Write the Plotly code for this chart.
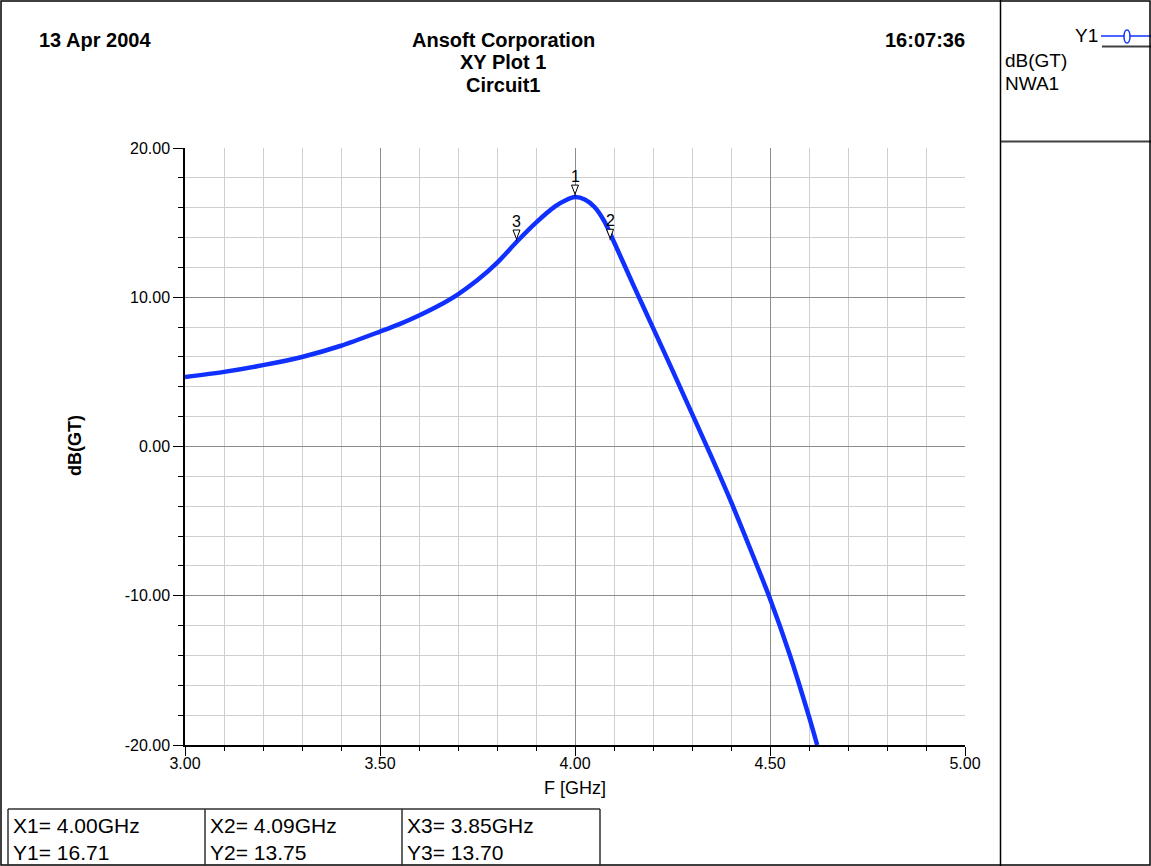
import plotly.graph_objects as go

# ---- data ----
freq_ghz = [3.0, 3.1, 3.2, 3.3, 3.4, 3.5, 3.55, 3.6, 3.65, 3.7, 3.75, 3.8, 3.85,
            3.9, 3.95, 3.975, 4.0, 4.025, 4.05, 4.075, 4.1, 4.15, 4.2, 4.25,
            4.3, 4.35, 4.4, 4.45, 4.5, 4.55, 4.6, 4.621]
gt_db = [4.66, 5.0, 5.45, 6.0, 6.75, 7.7, 8.2, 8.78, 9.43, 10.2, 11.15, 12.3, 13.7,
         15.0, 16.1, 16.48, 16.71, 16.55, 16.05, 15.1, 13.7, 10.8, 7.95, 5.1,
         2.2, -0.7, -3.7, -6.9, -10.2, -13.9, -18.1, -20.0]

marker_labels = ["1", "2", "3"]
marker_x = [4.00, 4.09, 3.85]
marker_y = [16.71, 13.75, 13.70]

x_ticks = [3.0, 3.5, 4.0, 4.5, 5.0]
y_ticks = [20, 10, 0, -10, -20]

W, H = 1151, 866
L, R, T, B = 185, 965, 148, 745


def px(xp):
    return (xp - L) / (R - L)


def py(yp):
    return (B - yp) / (B - T)


FONT = "Liberation Sans, Arial, sans-serif"
BLUE = "#1030ff"

fig = go.Figure()
fig.add_trace(go.Scatter(
    x=freq_ghz, y=gt_db, mode="lines",
    line=dict(color=BLUE, width=4.5, shape="spline", smoothing=0.8),
    showlegend=False, hoverinfo="skip", cliponaxis=True,
))

shapes = []
annotations = []

# marker triangles and labels
for lab, mx, my in zip(marker_labels, marker_x, marker_y):
    shapes.append(dict(
        type="path", xref="x", yref="y", xsizemode="pixel", ysizemode="pixel",
        xanchor=mx, yanchor=my,
        path="M 0 1 L 0 3 M 0 3 L -3.5 12 L 3.5 12 Z",
        fillcolor="white", line=dict(color="black", width=1), layer="above",
    ))
    annotations.append(dict(
        x=mx, y=my, xref="x", yref="y", text=lab, showarrow=False,
        yanchor="bottom", yshift=10, font=dict(family=FONT, size=16, color="black"),
    ))

# header texts
hdr = dict(family=FONT, size=20, color="black")
annotations += [
    dict(x=px(37), y=py(40), xref="paper", yref="paper", text="<b>13 Apr 2004</b>",
         showarrow=False, xanchor="left", yanchor="middle", font=hdr),
    dict(x=px(503), y=py(40), xref="paper", yref="paper", text="<b>Ansoft Corporation</b>",
         showarrow=False, xanchor="center", yanchor="middle", font=hdr),
    dict(x=px(503), y=py(62), xref="paper", yref="paper", text="<b>XY Plot 1</b>",
         showarrow=False, xanchor="center", yanchor="middle", font=hdr),
    dict(x=px(503), y=py(85), xref="paper", yref="paper", text="<b>Circuit1</b>",
         showarrow=False, xanchor="center", yanchor="middle", font=hdr),
    dict(x=px(967), y=py(40), xref="paper", yref="paper", text="<b>16:07:36</b>",
         showarrow=False, xanchor="right", yanchor="middle", font=hdr),
]

# legend panel
leg = dict(family=FONT, size=19, color="black")
annotations += [
    dict(x=px(1100), y=py(36), xref="paper", yref="paper", text="Y1",
         showarrow=False, xanchor="right", yanchor="middle", font=leg),
    dict(x=px(1003), y=py(61), xref="paper", yref="paper", text="dB(GT)",
         showarrow=False, xanchor="left", yanchor="middle", font=leg),
    dict(x=px(1003), y=py(83), xref="paper", yref="paper", text="NWA1",
         showarrow=False, xanchor="left", yanchor="middle", font=leg),
]
shapes += [
    dict(type="line", xref="paper", yref="paper", x0=px(1101), x1=px(1151),
         y0=py(36), y1=py(36), line=dict(color=BLUE, width=1.5)),
    dict(type="circle", xref="paper", yref="paper", x0=px(1124), x1=px(1130),
         y0=py(30), y1=py(43), fillcolor="white", line=dict(color=BLUE, width=1.5)),
    dict(type="line", xref="paper", yref="paper", x0=px(1102), x1=px(1151),
         y0=py(46.5), y1=py(46.5), line=dict(color="#404040", width=2)),
    dict(type="line", xref="paper", yref="paper", x0=px(1001), x1=px(1151),
         y0=py(141.5), y1=py(141.5), line=dict(color="#404040", width=2)),
    dict(type="line", xref="paper", yref="paper", x0=px(1000.5), x1=px(1000.5),
         y0=py(0), y1=py(866), line=dict(color="black", width=1.5)),
    # outer border
    dict(type="rect", xref="paper", yref="paper", x0=px(1), x1=px(1150),
         y0=py(1), y1=py(865), line=dict(color="black", width=1.5)),
]

# marker table
tbl_cols = [8, 205, 402, 600]
tbl_top = 809
shapes.append(dict(type="line", xref="paper", yref="paper", x0=px(tbl_cols[0]),
                   x1=px(tbl_cols[-1]), y0=py(tbl_top), y1=py(tbl_top),
                   line=dict(color="#303030", width=1.5)))
for c in tbl_cols:
    shapes.append(dict(type="line", xref="paper", yref="paper", x0=px(c), x1=px(c),
                       y0=py(tbl_top), y1=py(866), line=dict(color="#303030", width=1.5)))
tbl_font = dict(family=FONT, size=21, color="black")
for i, (lab, mx, my) in enumerate(zip(marker_labels, marker_x, marker_y)):
    annotations.append(dict(x=px(tbl_cols[i] + 3), y=py(825), xref="paper", yref="paper",
                            text=f"X{lab}= {mx:.2f}GHz", showarrow=False,
                            xanchor="left", yanchor="middle", font=tbl_font))
    annotations.append(dict(x=px(tbl_cols[i] + 3), y=py(852), xref="paper", yref="paper",
                            text=f"Y{lab}= {my:.2f}", showarrow=False,
                            xanchor="left", yanchor="middle", font=tbl_font))

# axis titles
annotations += [
    dict(x=px(575), y=py(788), xref="paper", yref="paper", text="F [GHz]",
         showarrow=False, xanchor="center", yanchor="middle",
         font=dict(family=FONT, size=18, color="black")),
    dict(x=px(75), y=py(446), xref="paper", yref="paper", text="<b>dB(GT)</b>",
         showarrow=False, xanchor="center", yanchor="middle", textangle=-90,
         font=dict(family=FONT, size=18, color="black")),
]

tickfont = dict(family=FONT, size=16, color="black")
fig.update_layout(
    width=W, height=H, autosize=False,
    margin=dict(l=L, r=W - R, t=T, b=H - B, pad=0),
    paper_bgcolor="white", plot_bgcolor="white",
    showlegend=False,
    shapes=shapes, annotations=annotations,
    xaxis=dict(
        range=[3.0, 5.0], tickvals=x_ticks, ticktext=[f"{v:.2f}" for v in x_ticks],
        ticks="outside", ticklen=9, tickcolor="black", tickwidth=1,
        ticklabelstandoff=-6,
        showgrid=True, gridcolor="#8c8c8c", gridwidth=1,
        minor=dict(dtick=0.1, tick0=3.0, ticks="outside", ticklen=4, tickcolor="black",
                   showgrid=True, gridcolor="#cfcfcf", gridwidth=1),
        showline=True, linecolor="black", linewidth=2, mirror=False,
        zeroline=False, tickfont=tickfont, fixedrange=True,
    ),
    yaxis=dict(
        range=[-20, 20], tickvals=y_ticks, ticktext=[f"{v:.2f}" for v in y_ticks],
        ticks="outside", ticklen=10, tickcolor="black", tickwidth=1,
        showgrid=True, gridcolor="#8c8c8c", gridwidth=1,
        minor=dict(dtick=2, tick0=0, ticks="outside", ticklen=5, tickcolor="black",
                   showgrid=True, gridcolor="#cfcfcf", gridwidth=1),
        showline=True, linecolor="black", linewidth=1.5,
        zeroline=False, tickfont=tickfont, fixedrange=True,
    ),
)

fig.write_html(
    "out.html",
    config={"displayModeBar": False},
    post_script="document.body.style.margin='0';document.body.style.overflow='hidden';",
)
